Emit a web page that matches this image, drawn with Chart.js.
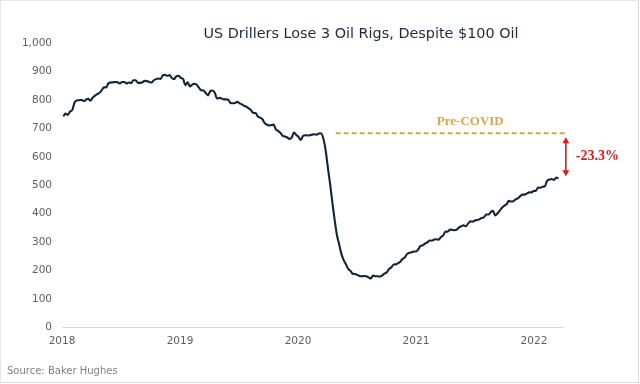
<!DOCTYPE html>
<html>
<head>
<meta charset="utf-8">
<script src="https://cdn.jsdelivr.net/npm/chart.js@4.4.1/dist/chart.umd.min.js"></script>
<style>
  body { margin: 0; background: #fff; }
  #wrap { position: relative; width: 640px; height: 384px; }
  #chart { position: absolute; left: 0; top: 0; }
  #frame { position: absolute; left: 0; top: 0; width: 639px; height: 383px; border-right: 1px solid #d9d9d9; border-bottom: 1px solid #d9d9d9; border-left: 1px solid #e6e6e6; border-top: 1px solid #e6e6e6; box-sizing: border-box; pointer-events: none; }
  #title { position: absolute; left: 0; width: 722px; top: 25px; text-align: center; font: 14.4px "DejaVu Sans", Verdana, sans-serif; color: #1c2b3a; }
  #source { position: absolute; left: 7px; top: 365px; font: 10px "DejaVu Sans", Verdana, sans-serif; color: #808080; }
</style>
</head>
<body>
<div id="wrap">
  <canvas id="chart" width="640" height="384"></canvas>
  <div id="title">US Drillers Lose 3 Oil Rigs, Despite $100 Oil</div>
  <div id="source">Source: Baker Hughes</div>
  <div id="frame"></div>
</div>
<script>
// Weekly US oil rig count (Baker Hughes), first reading Fri 5 Jan 2018
var firstWeek = Date.UTC(2018, 0, 5);
var rigs2018 = [742, 752, 747, 759, 765, 791, 798, 799, 800, 796, 800, 804, 797, 808, 815, 820, 825, 834, 844, 844,
    859, 861, 862, 863, 862, 858, 863, 863, 858, 861, 859, 869, 869, 860, 860, 862, 867, 866, 863, 861,
    869, 873, 875, 874, 886, 888, 885, 887, 877, 873, 883, 885];
var rigs2019 = [877, 873, 852, 862, 847, 854, 857, 853, 843, 834, 833, 824, 816, 831, 833, 825, 805, 807, 805, 802,
    802, 800, 789, 788, 789, 793, 788, 784, 779, 776, 770, 764, 754, 754, 742, 738, 733, 719, 713, 710,
    712, 713, 696, 691, 684, 674, 671, 668, 663, 667, 685, 677];
var rigs2020 = [670, 659, 673, 676, 675, 676, 678, 679, 678, 682, 683, 664, 624, 562, 504, 438, 378, 325, 292, 258,
    237, 222, 206, 199, 189, 188, 185, 181, 180, 181, 180, 176, 172, 183, 180, 180, 179, 183, 189, 193,
    205, 211, 221, 222, 226, 231, 241, 246, 258, 263, 264, 267];
var rigs2021 = [267, 275, 287, 289, 295, 299, 306, 305, 309, 310, 309, 318, 324, 337, 337, 344, 343, 342, 344, 352,
    356, 359, 356, 365, 373, 372, 376, 378, 380, 385, 387, 397, 397, 405, 410, 394, 401, 411, 421, 428,
    433, 445, 443, 444, 450, 454, 461, 467, 467, 471, 475, 475, 480];
var rigs2022 = [481, 492, 491, 495, 497, 516, 520, 522, 519, 527, 524];

var yearTicks = [2018, 2019, 2020, 2021, 2022];
var yMin = 0, yMax = 1000, yStep = 100;

// Pre-COVID reference and gap annotation
var preCovidLevel = 683;
var preCovidSpan = [2020.32, 2022.28];
var preCovidLabel = 'Pre-COVID';
var gapArrowX = 2022.27;
var gapArrowEnds = [669, 532];
var gapLabel = '-23.3%';

var weekly = rigs2018.concat(rigs2019, rigs2020, rigs2021, rigs2022);
var dayMs = 86400000;
function weekToYear(i) {
    return 2018 + (firstWeek + i * 7 * dayMs - Date.UTC(2018, 0, 1)) / (365.25 * dayMs);
}
var rigPoints = weekly.map(function (v, i) { return { x: weekToYear(i), y: v }; });
var preCovidPoints = preCovidSpan.map(function (x) { return { x: x, y: preCovidLevel }; });

// Arrow + text labels drawn on top of the lines
var annotations = {
    id: 'annotations',
    afterDatasetsDraw: function (chart) {
        var ctx = chart.ctx;
        var xs = chart.scales.x, ys = chart.scales.y;
        ctx.save();

        // Pre-COVID text
        ctx.font = 'bold 13px "Liberation Serif", "DejaVu Serif", serif';
        ctx.fillStyle = '#d6a74c';
        ctx.textAlign = 'center';
        ctx.textBaseline = 'middle';
        ctx.fillText(preCovidLabel, xs.getPixelForValue(2021.46), ys.getPixelForValue(preCovidLevel) - 12);

        // double-headed red arrow
        var ax = xs.getPixelForValue(gapArrowX);
        var y1 = ys.getPixelForValue(gapArrowEnds[0]);
        var y2 = ys.getPixelForValue(gapArrowEnds[1]);
        ctx.strokeStyle = '#e3161c';
        ctx.fillStyle = '#e3161c';
        ctx.lineWidth = 1.6;
        ctx.beginPath();
        ctx.moveTo(ax, y1 + 4);
        ctx.lineTo(ax, y2 - 4);
        ctx.stroke();
        ctx.beginPath();
        ctx.moveTo(ax, y1);
        ctx.lineTo(ax - 3.5, y1 + 6);
        ctx.lineTo(ax + 3.5, y1 + 6);
        ctx.closePath();
        ctx.fill();
        ctx.beginPath();
        ctx.moveTo(ax, y2);
        ctx.lineTo(ax - 3.5, y2 - 6);
        ctx.lineTo(ax + 3.5, y2 - 6);
        ctx.closePath();
        ctx.fill();

        ctx.font = 'bold 14px "Liberation Serif", "DejaVu Serif", serif';
        ctx.textAlign = 'left';
        ctx.fillText(gapLabel, ax + 10, (y1 + y2) / 2);
        ctx.restore();
    }
};

var ctx = document.getElementById('chart').getContext('2d');
var rigChart = new Chart(ctx, {
    type: 'line',
    data: {
        datasets: [{
            label: 'Oil rigs',
            data: rigPoints,
            borderColor: '#102536',
            borderWidth: 2.1,
            pointRadius: 0,
            cubicInterpolationMode: 'monotone',
            fill: false
        }, {
            label: preCovidLabel,
            data: preCovidPoints,
            borderColor: '#d9a53f',
            borderWidth: 2,
            borderDash: [5, 3],
            pointRadius: 0,
            clip: false,
            fill: false
        }]
    },
    options: {
        responsive: false,
        animation: false,
        layout: { padding: { left: 0, right: 77, top: 43, bottom: 0 } },
        plugins: {
            legend: { display: false },
            tooltip: { enabled: false }
        },
        scales: {
            x: {
                type: 'linear',
                min: 2018,
                max: 2022.246,
                afterBuildTicks: function (scale) {
                    scale.ticks = yearTicks.map(function (v) { return { value: v }; });
                },
                afterFit: function (scale) { scale.height = 56.5; },
                grid: { display: false, drawTicks: false },
                border: { display: true, color: '#d9d9d9', width: 1 },
                ticks: {
                    autoSkip: false,
                    maxRotation: 0,
                    padding: 7,
                    color: '#5f5f5f',
                    font: { family: '"DejaVu Sans", Verdana, sans-serif', size: 10.5 },
                    callback: function (v) { return String(v); }
                }
            },
            y: {
                min: yMin,
                max: yMax,
                afterFit: function (scale) { scale.width = 62; },
                grid: { display: false, drawTicks: false },
                border: { display: false },
                ticks: {
                    stepSize: yStep,
                    padding: 10,
                    color: '#5f5f5f',
                    font: { family: '"DejaVu Sans", Verdana, sans-serif', size: 10.5 },
                    callback: function (v) { return v.toLocaleString('en-US'); }
                }
            }
        }
    },
    plugins: [annotations]
});
</script>
</body>
</html>
